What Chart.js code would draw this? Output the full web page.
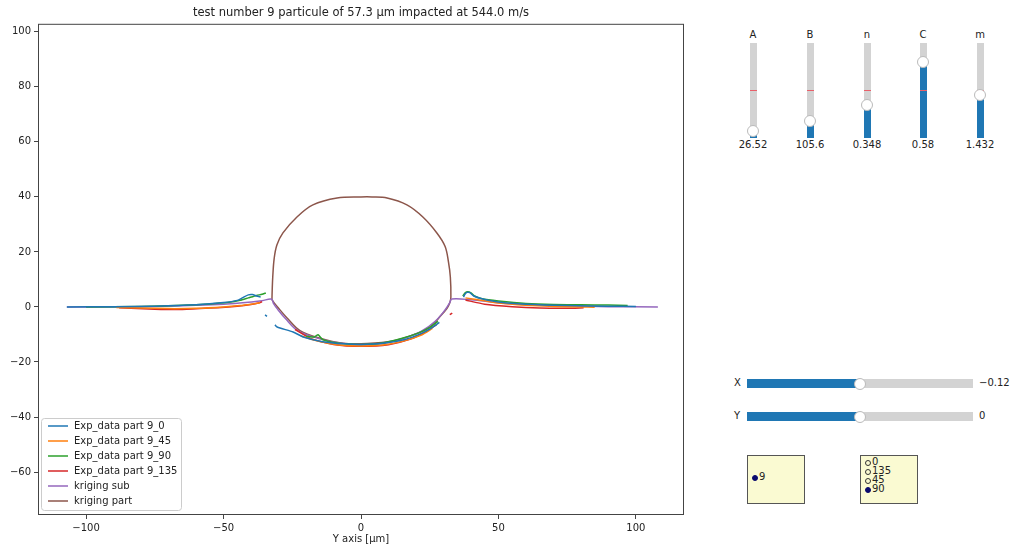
<!DOCTYPE html>
<html>
<head>
<meta charset="utf-8">
<script src="https://cdn.jsdelivr.net/npm/chart.js@4"></script>
<style>
  body { margin: 0; background: #fff; font-family: "DejaVu Sans", sans-serif; color: #222; }
  #wrap { position: absolute; left: 0; top: 0; width: 700px; height: 546px; }
  .abs { position: absolute; }
  .vtrack { position: absolute; width: 7px; background: #d3d3d3; }
  .vfill { position: absolute; left: 0; bottom: 0; width: 7px; background: #1f77b4; }
  .knob { position: absolute; width: 10px; height: 10px; border-radius: 50%; background: #fff; border: 1px solid #bbb; }
  .lbl { position: absolute; font-size: 10px; white-space: nowrap; }
  .htrack { position: absolute; height: 9px; background: #d3d3d3; }
  .hfill { position: absolute; left: 0; top: 0; height: 9px; background: #1f77b4; }
  .rbox { position: absolute; background: #fafad2; border: 1px solid #555; }
  .dot { position: absolute; width: 6px; height: 6px; border-radius: 50%; box-sizing: border-box; }
</style>
</head>
<body>
<div id="wrap"><canvas id="profile" width="700" height="546"></canvas></div>
<div id="widgets"></div>
<script>
// ---- chart data ----
const titleText = 'test number 9 particule of 57.3 \u00b5m impacted at 544.0 m/s';
const xTicks = [-100, -50, 0, 50, 100];
const yTicks = [-60, -40, -20, 0, 20, 40, 60, 80, 100];
const seriesNames = ['Exp_data part 9_0', 'Exp_data part 9_45', 'Exp_data part 9_90', 'Exp_data part 9_135', 'kriging sub', 'kriging part'];
const seriesColors = ['#1f77b4', '#ff7f0e', '#2ca02c', '#d62728', '#9467bd', '#8c564b'];

// null = gap in the measured profile
const exp0X = [-107, -90, -75, -60, -50, -45, -43, -41, -39.5, -38, -36.5, -36, -34.9, -34.2, -31.6, -31.3, -30.5, -24.7, -21, -14, -6, 0, 8, 16, 22, 26, 28.5, 31, 37.3, 37.8, 38.6, 39.6, 41, 44, 50, 60, 75, 90, 100];
const exp0Y = [0, 0.1, 0.3, 0.8, 1.6, 2.4, 3.4, 4.4, 4.5, 4.0, 3.6, null, -2.9, -3.4, null, -6.5, -7.3, -9.1, -10.9, -12.6, -13.4, -13.6, -13.2, -11.8, -9.6, -7.4, -5.6, null, 3.6, 4.6, 5.3, 5.2, 4.0, 3.0, 1.8, 1.0, 0.5, 0.3, 0.2];
const exp45X = [-89, -80, -70, -60, -50, -44, -40, -36.7, -36, -22, -15, -8, 0, 8, 15, 22, 26, 27, 38, 42, 50, 60, 70, 80, 85];
const exp45Y = [-0.2, -0.4, -0.6, -0.5, 0, 0.5, 1.0, 1.5, null, -10.5, -12.6, -13.8, -14.2, -13.8, -12.5, -10.2, -7.8, null, 3.3, 2.7, 1.4, 0.6, 0.2, 0, -0.1];
const exp90X = [-100, -80, -65, -55, -48, -44, -41, -38, -36, -34.6, -34, -20, -17, -15.6, -14, -8, 0, 8, 15, 21, 25, 28, 29, 37, 38, 38.8, 40, 41.5, 44, 50, 60, 70, 80, 90, 97];
const exp90Y = [0, 0.2, 0.6, 1.1, 1.7, 2.4, 3.3, 4.2, 4.6, 5.1, null, -10.6, -10.9, -10.1, -11.8, -13.2, -13.6, -13.1, -11.4, -9.4, -7.4, -5.2, null, 4.0, 5.2, 5.5, 5.1, 3.9, 3.0, 2.2, 1.3, 0.9, 0.8, 0.7, 0.5];
const exp135X = [-88, -75, -65, -55, -45, -40, -37, -36, -35, -24, -18, -10, 0, 10, 18, 24, 27.5, 28, 32.3, 33.2, 34, 38, 45, 55, 65, 75, 81];
const exp135Y = [-0.3, -0.8, -0.9, -0.4, 0.3, 0.9, 1.5, 1.9, null, -8.2, -11.6, -13.6, -14.3, -13.7, -11.7, -8.8, -6.4, null, -2.8, -2.2, null, 2.5, 1.0, 0.1, -0.4, -0.5, -0.3];
const subX = [-107, -90, -75, -60, -50, -42, -36, -32.5, -31.8, -30.2, -27.5, -23, -15, -7, 0, 8, 15, 22, 27, 30.5, 32.3, 33, 40, 50, 60, 75, 90, 108];
const subY = [0, 0, 0.2, 0.6, 1.0, 1.6, 2.3, 2.8, 1.2, -1.0, -4.2, -8.6, -11.6, -13.2, -13.6, -13.3, -11.6, -8.8, -5.2, -1.2, 1.6, 2.9, 2.6, 1.5, 0.8, 0.4, 0.1, 0];
const partX = [-32.4, -32.3, -32.1, -31.6, -30.6, -28.4, -23.3, -17.5, -8.7, 0, 4, 9.5, 16.7, 22.5, 27.6, 30.6, 31.8, 32.5, 32.7, 32.3, 31.3, 29.0, 25.1, 18.9, 11.6, 2.2, -6.5, -14.9, -22.2, -26.9, -30.2, -32.4];
const partY = [2.5, 6.2, 11.0, 17.5, 22.5, 26.9, 32.7, 37.1, 39.6, 40.0, 40.0, 39.6, 37.1, 32.7, 26.9, 22.0, 16.5, 10.9, 3.6, 1.5, -0.5, -3.2, -7.3, -10.2, -12.4, -13.3, -13.2, -11.4, -8.6, -4.0, -0.2, 2.5];

const seriesX = [exp0X, exp45X, exp90X, exp135X, subX, partX];
const seriesY = [exp0Y, exp45Y, exp90Y, exp135Y, subY, partY];

// widget values
const vNames = ['A', 'B', 'n', 'C', 'm'];
const vValues = ['26.52', '105.6', '0.348', '0.58', '1.432'];
const vPos = [0.07, 0.18, 0.35, 0.80, 0.45];   // slider position in its range
const hNames = ['X', 'Y'];
const hValues = ['\u22120.12', '0'];
const hPos = [0.5, 0.5];
const radioPart = ['9'];
const radioAngle = ['0', '135', '45', '90'];
const partSel = '9';
const angleSel = '90';

// ---- main plot ----
const FONT = '"DejaVu Sans", sans-serif';
const datasets = seriesNames.map((name, i) => ({
    label: name,
    data: seriesX[i].map((x, j) => ({ x: x, y: seriesY[i][j] })),
    borderColor: seriesColors[i],
    backgroundColor: seriesColors[i],
    borderWidth: 1.5,
    pointRadius: 0,
    showLine: true,
    spanGaps: false,
    tension: i >= 4 ? 0.35 : 0.2,
    fill: false
}));

const framePlugin = {
    id: 'frame',
    afterDatasetsDraw(chart) {
        const a = chart.chartArea, c = chart.ctx;
        c.save();
        c.strokeStyle = '#444';
        c.lineWidth = 1;
        c.strokeRect(a.left + 0.5, a.top + 0.5, a.right - a.left - 1, a.bottom - a.top - 1);
        // legend box, lower left like matplotlib
        const lx = 41, ly = 418, lw = 140, lh = 92;
        c.fillStyle = 'rgba(255,255,255,0.85)';
        c.strokeStyle = '#ccc';
        c.beginPath();
        c.roundRect(lx + 0.5, ly + 0.5, lw, lh, 3);
        c.fill();
        c.stroke();
        c.font = '10px ' + FONT;
        c.textBaseline = 'middle';
        chart.data.datasets.forEach((ds, i) => {
            const yy = ly + 8 + i * 15;
            c.strokeStyle = ds.borderColor;
            c.lineWidth = 1.5;
            c.beginPath();
            c.moveTo(48, yy);
            c.lineTo(68, yy);
            c.stroke();
            c.fillStyle = '#222';
            c.fillText(ds.label, 74, yy);
        });
        c.restore();
    }
};

new Chart(document.getElementById('profile'), {
    type: 'scatter',
    data: { datasets: datasets },
    options: {
        responsive: false,
        animation: false,
        events: [],
        layout: { padding: { right: 16, left: 0, bottom: 0, top: 0 } },
        plugins: {
            legend: { display: false },
            tooltip: { enabled: false },
            title: {
                display: true,
                text: titleText,
                fullSize: false,
                color: '#222',
                font: { family: FONT, size: 11.5, weight: 'normal' },
                padding: { top: 6, bottom: 4 }
            }
        },
        scales: {
            x: {
                type: 'linear',
                min: -117.5,
                max: 117.5,
                afterBuildTicks: s => { s.ticks = xTicks.map(v => ({ value: v })); },
                afterFit: s => { s.height = 31; },
                grid: { drawOnChartArea: false, drawTicks: true, tickLength: 4, color: '#444' },
                border: { display: false },
                ticks: { color: '#222', font: { family: FONT, size: 10 }, padding: 3, maxRotation: 0,
                         callback: v => String(v).replace('-', '\u2212') },
                title: { display: true, text: 'Y axis [\u00b5m]', color: '#222',
                         font: { family: FONT, size: 10 }, padding: { top: 0, bottom: 1 } }
            },
            y: {
                type: 'linear',
                min: -75.6,
                max: 102.9,
                afterBuildTicks: s => { s.ticks = yTicks.map(v => ({ value: v })); },
                afterFit: s => { s.width = 38; },
                grid: { drawOnChartArea: false, drawTicks: true, tickLength: 4, color: '#444' },
                border: { display: false },
                ticks: { color: '#222', font: { family: FONT, size: 10 }, padding: 3,
                         callback: v => String(v).replace('-', '\u2212') }
            }
        }
    },
    plugins: [framePlugin]
});

// ---- matplotlib-style widgets ----
const w = document.getElementById('widgets');
function el(cls, css, text) {
    const d = document.createElement('div');
    d.className = cls;
    Object.assign(d.style, css);
    if (text !== undefined) d.textContent = text;
    w.appendChild(d);
    return d;
}

const vCenters = [753, 810, 867, 923, 980];
const vTop = 43, vBot = 138;
vNames.forEach((n, i) => {
    const cx = vCenters[i];
    const h = vBot - vTop;
    const t = el('vtrack', { left: (cx - 3.5) + 'px', top: vTop + 'px', height: h + 'px' });
    const fillH = h * vPos[i];
    const f = document.createElement('div');
    f.className = 'vfill';
    f.style.height = fillH + 'px';
    t.appendChild(f);
    el('abs', { left: (cx - 3.5) + 'px', top: (vTop + h / 2 - 1) + 'px', width: '7px', height: '1.5px', background: '#e8606a' });
    el('knob', { left: (cx - 6) + 'px', top: (vBot - fillH - 6) + 'px' });
    el('lbl', { left: (cx - 20) + 'px', width: '40px', textAlign: 'center', top: '29px' }, n);
    el('lbl', { left: (cx - 25) + 'px', width: '50px', textAlign: 'center', top: '139px' }, vValues[i]);
});

const hCenters = [383.5, 416.5];
const hLeft = 747, hRight = 973;
hNames.forEach((n, i) => {
    const cy = hCenters[i];
    const len = hRight - hLeft;
    const t = el('htrack', { left: hLeft + 'px', top: (cy - 4.5) + 'px', width: len + 'px' });
    const f = document.createElement('div');
    f.className = 'hfill';
    f.style.width = (len * hPos[i]) + 'px';
    t.appendChild(f);
    el('knob', { left: (hLeft + len * hPos[i] - 6) + 'px', top: (cy - 6) + 'px' });
    el('lbl', { left: '734px', top: (cy - 7) + 'px' }, n);
    el('lbl', { left: '979px', top: (cy - 7) + 'px' }, hValues[i]);
});

function radio(left, labels, sel) {
    el('rbox', { left: left + 'px', top: '455px', width: '56px', height: '47px' });
    const step = 9;
    const y0 = labels.length === 1 ? 478 : 463;
    labels.forEach((lab, i) => {
        const cy = y0 + i * step;
        const on = lab === sel;
        el('dot', { left: (left + 5) + 'px', top: (cy - 3) + 'px',
                    background: on ? '#0a0a6e' : '#fafad2',
                    border: on ? '1px solid #0a0a6e' : '1px solid #333' });
        el('lbl', { left: (left + 12) + 'px', top: (cy - 7) + 'px' }, lab);
    });
}
radio(747, radioPart, partSel);
radio(860, radioAngle, angleSel);
</script>
</body>
</html>
